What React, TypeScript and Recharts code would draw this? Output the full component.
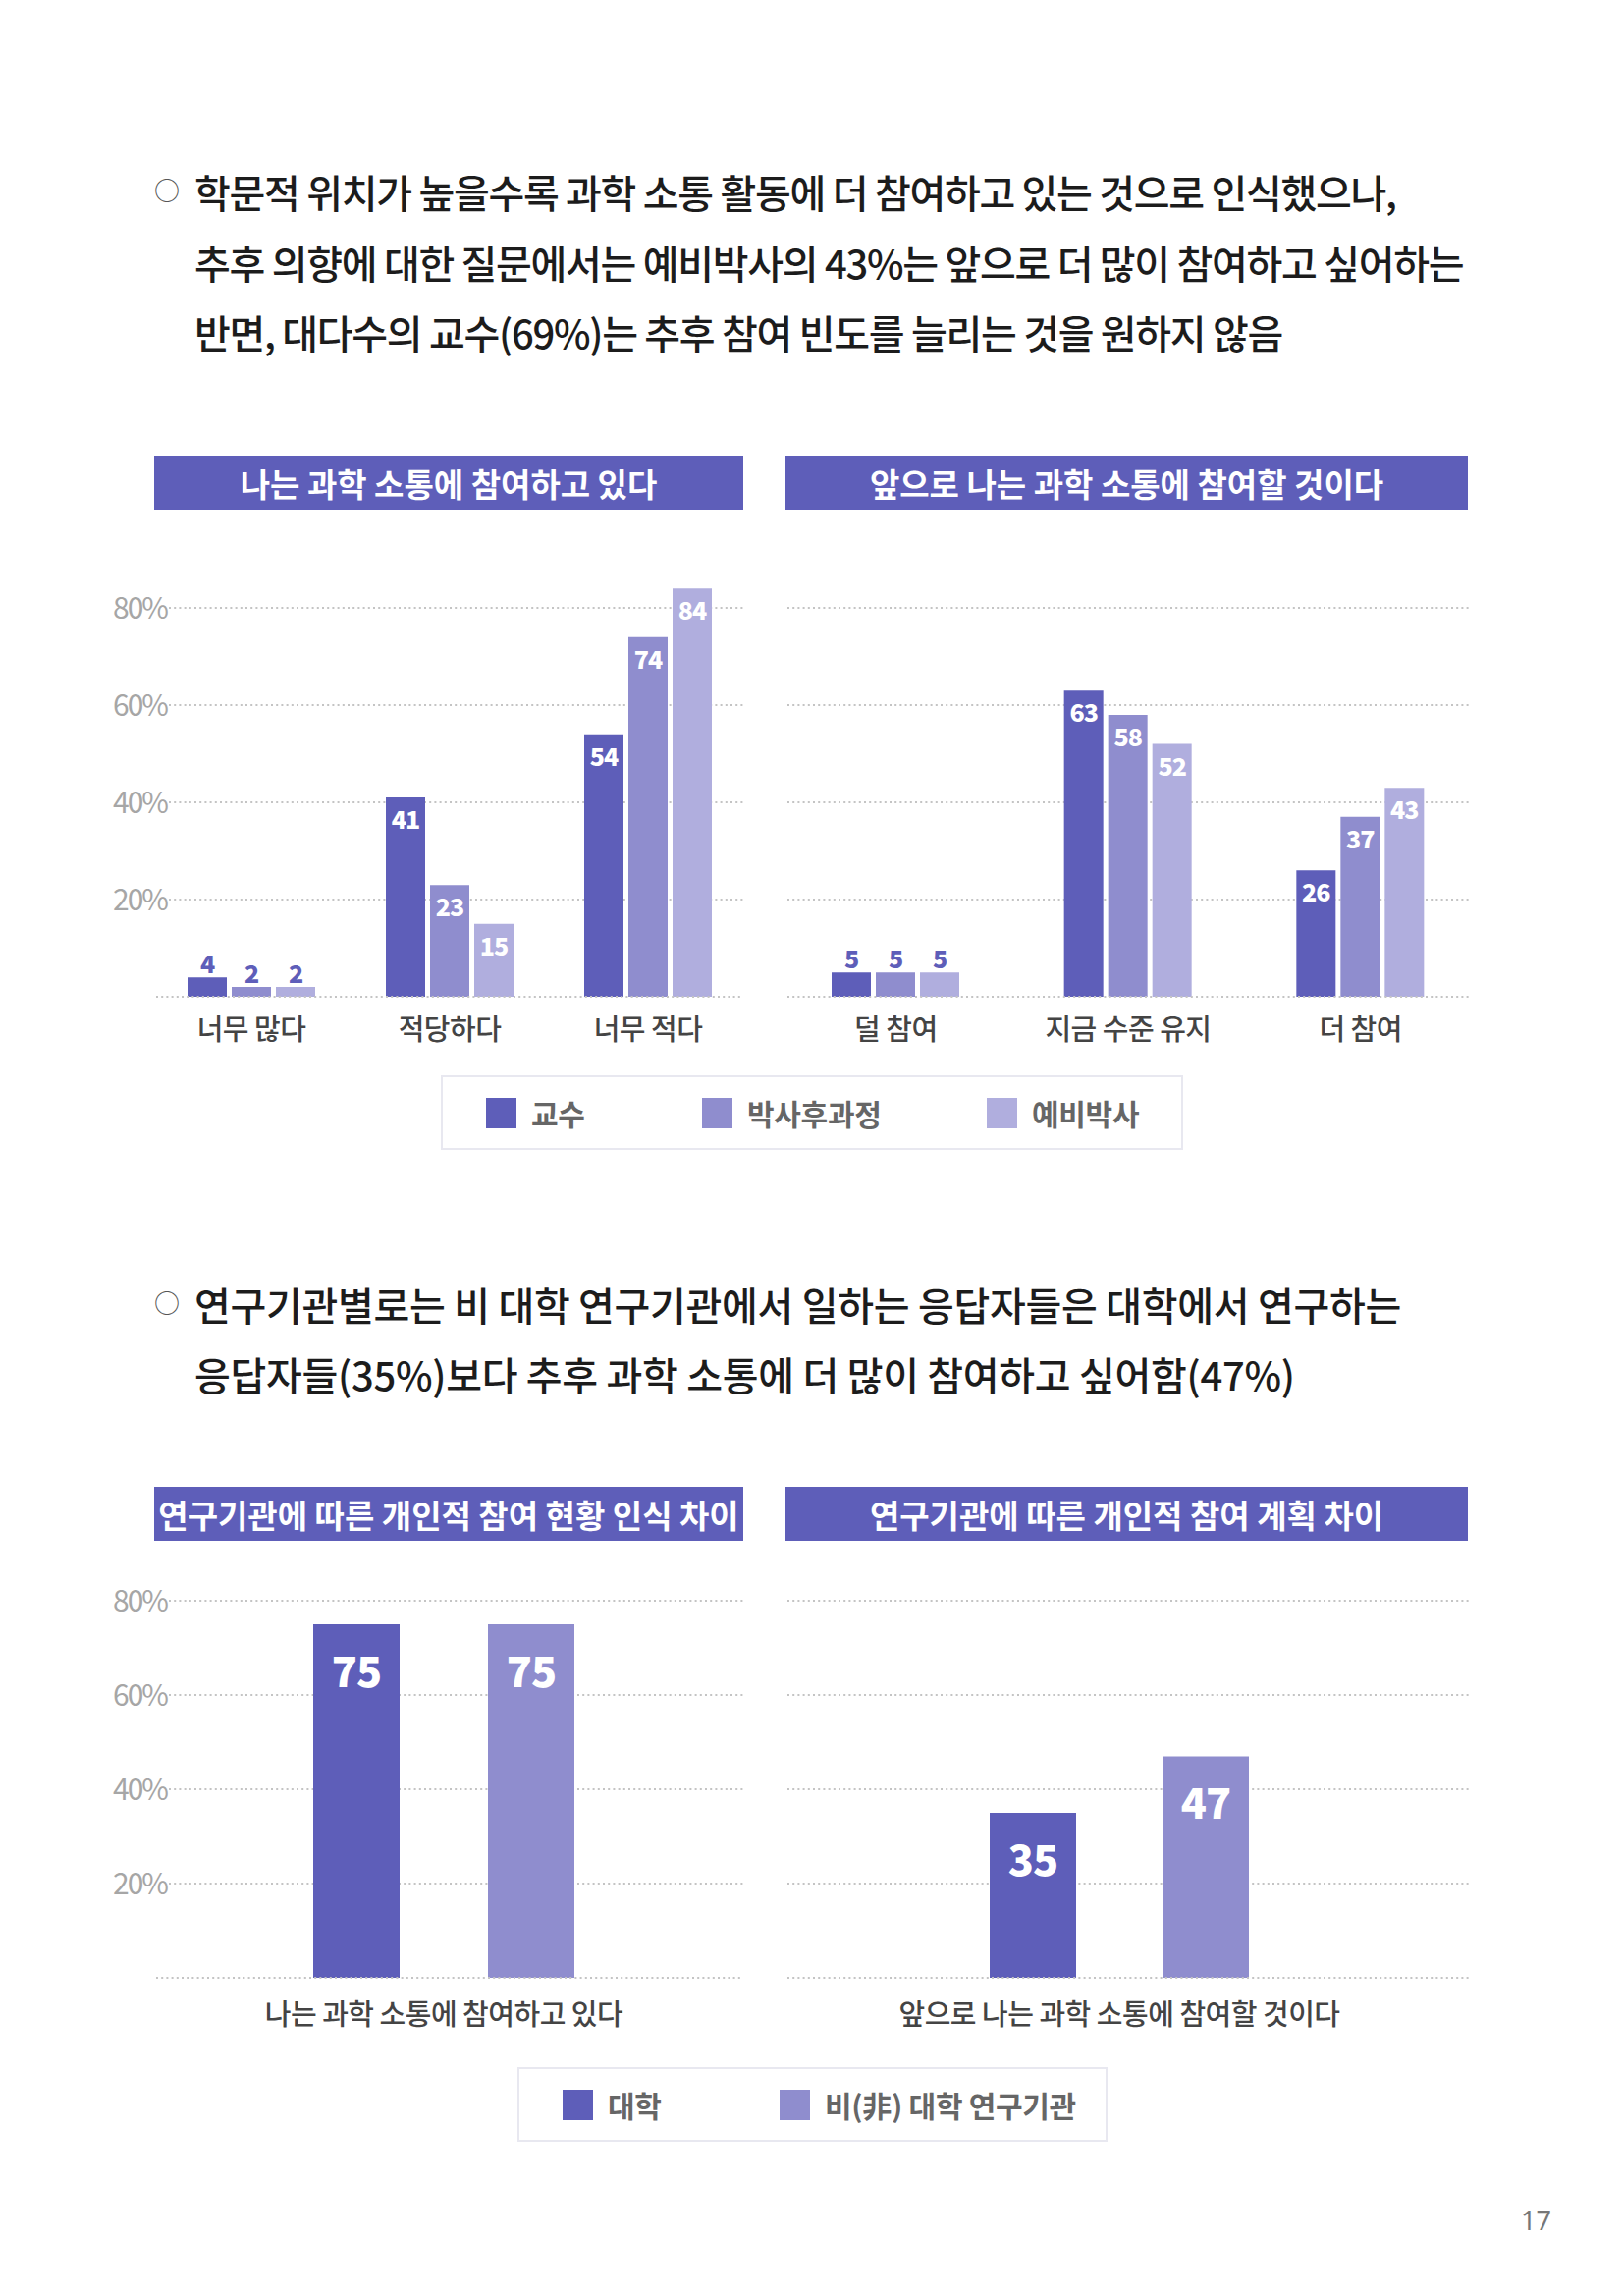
import React from 'react';
import { Bar, BarChart, CartesianGrid, LabelList, XAxis, YAxis } from 'recharts';

const FONT = '"Noto Sans CJK KR", "Noto Sans", sans-serif';

const PURPLE_DARK = '#5e5eb9';
const PURPLE_MID = '#8f8dce';
const PURPLE_LIGHT = '#b0aede';
const GRID = '#c4c4c4';

const yTicks = [20, 40, 60, 80];

// 나는 과학 소통에 참여하고 있다 (학문적 위치별, %)
const currentCategories = ['너무 많다', '적당하다', '너무 적다'];
const currentProfessor = [4, 41, 54];
const currentPostdoc = [2, 23, 74];
const currentPrePhd = [2, 15, 84];

// 앞으로 나는 과학 소통에 참여할 것이다 (학문적 위치별, %)
const futureCategories = ['덜 참여', '지금 수준 유지', '더 참여'];
const futureProfessor = [5, 63, 26];
const futurePostdoc = [5, 58, 37];
const futurePrePhd = [5, 52, 43];

// 연구기관별 (%)
const instCategories = ['나는 과학 소통에 참여하고 있다', '앞으로 나는 과학 소통에 참여할 것이다'];
const instUniversity = [75, 35];
const instNonUniversity = [75, 47];

const positionSeries = [
  { key: 'professor', name: '교수', color: PURPLE_DARK },
  { key: 'postdoc', name: '박사후과정', color: PURPLE_MID },
  { key: 'prePhd', name: '예비박사', color: PURPLE_LIGHT },
];

const instSeries = [
  { key: 'university', name: '대학', color: PURPLE_DARK },
  { key: 'nonUniversity', name: '비(非) 대학 연구기관', color: PURPLE_MID },
];

const currentData = currentCategories.map((name, i) => ({
  name,
  professor: currentProfessor[i],
  postdoc: currentPostdoc[i],
  prePhd: currentPrePhd[i],
}));

const futureData = futureCategories.map((name, i) => ({
  name,
  professor: futureProfessor[i],
  postdoc: futurePostdoc[i],
  prePhd: futurePrePhd[i],
}));

const instData = instCategories.map((name, i) => ({
  name,
  university: instUniversity[i],
  nonUniversity: instNonUniversity[i],
}));

type Series = { key: string; name: string; color: string };

const dotted = { stroke: GRID, strokeWidth: 1.8, strokeDasharray: '2 3.2' };

// dotted tick lines only; the plot's top and bottom edges are skipped
const gridLine = (inset: number) => (props: any) => {
  const edge =
    props.y1 <= props.y + 1 || (props.height != null && props.y1 >= props.y + props.height - 1);
  if (edge) return <g key={`g-${props.index}-${props.y1}`} />;
  return (
    <line
      key={`g-${props.index}-${props.y1}`}
      x1={props.x1 + inset}
      x2={props.x2}
      y1={props.y1}
      y2={props.y2}
      {...dotted}
    />
  );
};

const PercentTick = ({ x, y, payload }: any) => (
  <text
    x={x + 11}
    y={y - 2}
    textAnchor="end"
    dominantBaseline="central"
    fill="#a6a6a6"
    fontSize={30}
    fontFamily={FONT}
    letterSpacing={-2}
  >
    {`${payload.value}%`}
  </text>
);

const categoryTick = (offset: number) => ({ x, y, payload }: any) => (
  <text
    x={x}
    y={y + offset}
    textAnchor="middle"
    fill="#444"
    fontSize={29}
    fontWeight={500}
    fontFamily={FONT}
    letterSpacing={-0.5}
  >
    {payload.value}
  </text>
);

// value inside the top of the bar; above it when the bar is too short
const barLabel = (size: number, offset: number) => (props: any) => {
  const { x, y, width, height, value } = props;
  const cx = x + width / 2;
  const inside = height >= size + 10;
  return (
    <text
      x={cx}
      y={inside ? y + offset : y - size * 0.6}
      textAnchor="middle"
      dominantBaseline="central"
      fill={inside ? '#fff' : PURPLE_DARK}
      fontSize={size}
      fontWeight={800}
      fontFamily={FONT}
      letterSpacing={-1}
    >
      {value}
    </text>
  );
};

interface ChartProps {
  left: number;
  top: number;
  width: number;
  height: number;
  margin: { top: number; right: number; bottom: number; left: number };
  padding: { left: number; right: number };
  data: any[];
  series: Series[];
  withAxis: boolean;
  barSize: number;
  barGap: number;
  labelSize: number;
  labelOffset: number;
  tickOffset: number;
}

const GroupChart = ({
  left,
  top,
  width,
  height,
  margin,
  padding,
  data,
  series,
  withAxis,
  barSize,
  barGap,
  labelSize,
  labelOffset,
  tickOffset,
}: ChartProps) => (
  <div style={{ position: 'absolute', left, top }}>
    <BarChart width={width} height={height} data={data} margin={margin} barSize={barSize} barGap={barGap}>
      <CartesianGrid vertical={false} horizontal={gridLine(withAxis ? 13 : 0)} />
      <XAxis
        dataKey="name"
        height={50}
        padding={padding}
        tickLine={false}
        tickSize={0}
        tickMargin={0}
        axisLine={dotted}
        tick={categoryTick(tickOffset)}
        interval={0}
      />
      <YAxis
        domain={[0, 88]}
        ticks={yTicks}
        hide={!withAxis}
        width={59}
        tickLine={false}
        tickSize={0}
        tickMargin={0}
        axisLine={false}
        tick={<PercentTick />}
      />
      {series.map((s) => (
        <Bar key={s.key} dataKey={s.key} name={s.name} fill={s.color} isAnimationActive={false}>
          <LabelList dataKey={s.key} content={barLabel(labelSize, labelOffset)} />
        </Bar>
      ))}
    </BarChart>
  </div>
);

const Header = ({ left, top, width, text }: { left: number; top: number; width: number; text: string }) => (
  <div
    style={{
      position: 'absolute',
      left,
      top,
      width,
      height: 55,
      background: PURPLE_DARK,
      color: '#fff',
      display: 'flex',
      alignItems: 'center',
      justifyContent: 'center',
      fontSize: 33,
      fontWeight: 700,
      letterSpacing: 0,
      whiteSpace: 'nowrap',
    }}
  >
    {text}
  </div>
);

const BodyLine = ({
  top,
  text,
  bullet,
  spacing = -1.3,
}: {
  top: number;
  text: string;
  bullet?: boolean;
  spacing?: number;
}) => (
  <>
    {bullet && (
      <div style={{ position: 'absolute', left: 157, top: top + 4, fontSize: 26, lineHeight: 1, color: '#555' }}>○</div>
    )}
    <div
      style={{
        position: 'absolute',
        left: 198,
        top: top - 1,
        fontSize: 40,
        lineHeight: 1,
        fontWeight: 500,
        letterSpacing: spacing,
        color: '#1c1c1c',
        whiteSpace: 'nowrap',
      }}
    >
      {text}
    </div>
  </>
);

const LegendBox = ({
  left,
  top,
  width,
  series,
  offsets,
}: {
  left: number;
  top: number;
  width: number;
  series: Series[];
  offsets: number[];
}) => (
  <div
    style={{
      position: 'absolute',
      left,
      top,
      width,
      height: 76,
      boxSizing: 'border-box',
      border: '2px solid #e8e8f0',
    }}
  >
    {series.map((s, i) => (
      <div
        key={s.key}
        style={{ position: 'absolute', left: offsets[i], top: 20, display: 'flex', alignItems: 'center', height: 32 }}
      >
        <div style={{ width: 31, height: 31, background: s.color }} />
        <span
          style={{ marginLeft: 15, fontSize: 30, fontWeight: 700, color: '#666', letterSpacing: -0.3, whiteSpace: 'nowrap' }}
        >
          {s.name}
        </span>
      </div>
    ))}
  </div>
);

export default function App() {
  return (
    <div
      style={{
        position: 'absolute',
        left: 0,
        top: 0,
        width: 1653,
        height: 2338,
        background: '#fff',
        fontFamily: FONT,
        overflow: 'hidden',
      }}
    >
      <BodyLine bullet top={176} text="학문적 위치가 높을수록 과학 소통 활동에 더 참여하고 있는 것으로 인식했으나," />
      <BodyLine top={248} text="추후 의향에 대한 질문에서는 예비박사의 43%는 앞으로 더 많이 참여하고 싶어하는" />
      <BodyLine top={319} text="반면, 대다수의 교수(69%)는 추후 참여 빈도를 늘리는 것을 원하지 않음" />

      <Header left={157} top={464} width={600} text="나는 과학 소통에 참여하고 있다" />
      <Header left={800} top={464} width={695} text="앞으로 나는 과학 소통에 참여할 것이다" />

      <GroupChart
        left={100}
        top={560}
        width={670}
        height={520}
        margin={{ top: 19.4, right: 13, bottom: 15, left: 0 }}
        padding={{ left: -4, right: -4 }}
        data={currentData}
        series={positionSeries}
        withAxis
        barSize={40}
        barGap={5}
        labelSize={25}
        labelOffset={21}
        tickOffset={44}
      />
      <GroupChart
        left={790}
        top={560}
        width={720}
        height={520}
        margin={{ top: 19.4, right: 12, bottom: 15, left: 12 }}
        padding={{ left: -8, right: -6 }}
        data={futureData}
        series={positionSeries}
        withAxis={false}
        barSize={40}
        barGap={5}
        labelSize={25}
        labelOffset={21}
        tickOffset={44}
      />

      <LegendBox left={449} top={1095} width={756} series={positionSeries} offsets={[44, 264, 554]} />

      <BodyLine bullet spacing={-0.3} top={1309} text="연구기관별로는 비 대학 연구기관에서 일하는 응답자들은 대학에서 연구하는" />
      <BodyLine spacing={-0.3} top={1380} text="응답자들(35%)보다 추후 과학 소통에 더 많이 참여하고 싶어함(47%)" />

      <Header left={157} top={1514} width={600} text="연구기관에 따른 개인적 참여 현황 인식 차이" />
      <Header left={800} top={1514} width={695} text="연구기관에 따른 개인적 참여 계획 차이" />

      <GroupChart
        left={100}
        top={1575}
        width={670}
        height={504}
        margin={{ top: 16.6, right: 13, bottom: 15, left: 0 }}
        padding={{ left: 0, right: 12 }}
        data={instData.slice(0, 1)}
        series={instSeries}
        withAxis
        barSize={88}
        barGap={90}
        labelSize={43}
        labelOffset={45}
        tickOffset={48}
      />
      <GroupChart
        left={790}
        top={1575}
        width={720}
        height={504}
        margin={{ top: 16.6, right: 12, bottom: 15, left: 12 }}
        padding={{ left: 0, right: 20 }}
        data={instData.slice(1)}
        series={instSeries}
        withAxis={false}
        barSize={88}
        barGap={88}
        labelSize={43}
        labelOffset={45}
        tickOffset={48}
      />

      <LegendBox left={527} top={2105} width={601} series={instSeries} offsets={[44, 265]} />

      <div style={{ position: 'absolute', left: 1549, top: 2247, fontSize: 27, lineHeight: 1, color: '#777', fontFamily: '"Noto Sans", sans-serif' }}>
        17
      </div>
    </div>
  );
}
